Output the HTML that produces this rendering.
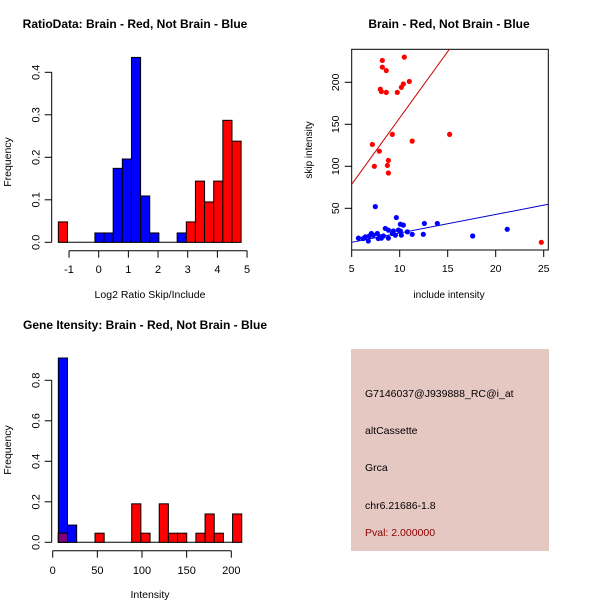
<!DOCTYPE html>
<html><head><meta charset="utf-8"><style>
body{margin:0;background:#fff}
svg{display:block;font-family:"Liberation Sans",sans-serif}
</style></head><body>
<svg id="s" width="600" height="600" viewBox="0 0 600 600"></svg>
<script>
// ---- Panel 1: Ratio histogram ----
const ratioBinStart = -1.36;
const ratioBinWidth = 0.308;
const ratioBlueIdx = [4,5,6,7,8,9,10,13];
const ratioBlueVals = [0.022,0.022,0.174,0.196,0.435,0.109,0.022,0.022];
const ratioRedIdx = [0,14,15,16,17,18,19];
const ratioRedVals = [0.048,0.048,0.144,0.095,0.144,0.287,0.238];
const ratioXTicks = [-1,0,1,2,3,4,5];
const ratioYTicks = [0,0.1,0.2,0.3,0.4];
// ---- Panel 2: scatter ----
const redX = [10.48,8.19,8.19,8.6,11.0,10.38,10.17,7.98,8.09,8.6,9.75,9.23,15.2,7.15,11.3,7.88,8.82,8.72,7.36,8.82,24.75];
const redY = [230,226,218,214,201,198,194,191.7,189,188,188,138,138,126,130,118,107,101,100,92,9.5];
const blueX = [7.46,9.65,10.07,10.38,12.57,13.92,8.5,21.2,8.82,9.34,9.86,10.07,10.8,7.05,7.67,11.3,12.46,9.55,10.17,17.6,8.3,6.42,6.84,5.7,6.2,6.73,7.77,8.09,8.82,7.98,7.25,9.23];
const blueY = [52,39,31,30,32,32,26,25,24,23,24,23,22,20,20,19,19,18,18,17,17,16,17,14.5,14,11,14,14.5,14.5,16,18,20];
const redFit = [-0.4,15.8];   // intercept, slope
const blueFit = [-1.55,2.21];
const scXTicks = [5,10,15,20,25];
const scYTicks = [50,100,150,200];
// ---- Panel 3: intensity histogram ----
const intBinStart = 6.3;
const intBinWidth = 10.27;
const intBlueIdx = [0,1];
const intBlueVals = [0.91,0.085];
const intRedIdx = [0,4,8,9,11,12,13,15,16,17,19];
const intRedVals = [0.045,0.045,0.19,0.045,0.19,0.045,0.045,0.045,0.14,0.045,0.14];
const intXTicks = [0,50,100,150,200];
const intYTicks = [0,0.2,0.4,0.6,0.8];

const S = document.getElementById('s');
const NS = 'http://www.w3.org/2000/svg';
function el(tag, attrs, parent){
  const e = document.createElementNS(NS, tag);
  for (const k in attrs) e.setAttribute(k, attrs[k]);
  (parent||S).appendChild(e);
  return e;
}
function txt(x,y,t,opts,parent){
  const e = el('text',{x:x,y:y,'font-size':opts.size||11,'text-anchor':opts.anchor||'middle',fill:opts.fill||'#000','font-weight':opts.bold?'bold':'normal'},parent);
  if(opts.rot) e.setAttribute('transform','rotate(-90 '+x+' '+y+')');
  e.textContent = t;
  return e;
}
function line(x1,y1,x2,y2,c,p){return el('line',{x1:x1,y1:y1,x2:x2,y2:y2,stroke:c||'#000','stroke-width':1},p);}

// Panel 1
(function(){
  const g = el('g',{});
  
  
  const xs = v => 98.7 + v*29.67;
  const ys = v => 242.3 - v*425;
  function bars(idx, vals, col, name){
    idx.forEach((k,i)=>{
      const x0 = xs(ratioBinStart + k*ratioBinWidth), x1 = xs(ratioBinStart+(k+1)*ratioBinWidth);
      const r = el('rect',{x:x0,y:ys(vals[i]),width:x1-x0,height:ys(0)-ys(vals[i]),fill:col,stroke:'#000','stroke-width':1},g);
      
      
    });
  }
  line(xs(ratioBinStart),ys(0),xs(ratioBinStart+20*ratioBinWidth),ys(0),'#000',g);
  bars(ratioBlueIdx,ratioBlueVals,'#0000ff','blue');
  bars(ratioRedIdx,ratioRedVals,'#ff0000','red');
  const ay = 250.7;
  line(xs(ratioXTicks[0]),ay,xs(ratioXTicks[ratioXTicks.length-1]),ay,'#000',g);
  ratioXTicks.forEach(t=>{line(xs(t),ay,xs(t),ay+7,'#000',g);txt(xs(t),273,String(t),{},g);});
  const ax = 51.7;
  line(ax,ys(0),ax,ys(0.4),'#000',g);
  ratioYTicks.forEach(t=>{line(ax-7,ys(t),ax,ys(t),'#000',g);txt(ax-12,ys(t),t.toFixed(1),{rot:true},g);});
  const t1=txt(135,28,'RatioData: Brain - Red, Not Brain - Blue',{bold:true,size:12},g);
  
  
  txt(150,298,'Log2 Ratio Skip/Include',{size:10.5},g);
  txt(11,162,'Frequency',{rot:true,size:10.5},g);
})();

// Panel 2
(function(){
  const g = el('g',{});
  
  
  const xs = v => 351.7 + (v-5)*9.6;
  const ys = v => 250.3 - v*0.84;
  const clip = el('clipPath',{id:'cp'},g);
  el('rect',{x:351.7,y:49.3,width:196.6,height:200.7},clip);
  const bx = el('rect',{x:351.7,y:49.3,width:196.6,height:200.7,fill:'none',stroke:'#000'},g);
  
  
  const rl = el('line',{x1:xs(5),y1:ys(redFit[0]+redFit[1]*5),x2:xs(25.5),y2:ys(redFit[0]+redFit[1]*25.5),stroke:'#cc0000','clip-path':'url(#cp)'},g);
  
  
  const bl = el('line',{x1:xs(5),y1:ys(blueFit[0]+blueFit[1]*5),x2:xs(25.48),y2:ys(blueFit[0]+blueFit[1]*25.48),stroke:'#0000cc','clip-path':'url(#cp)'},g);
  
  
  blueX.forEach((x,i)=>{const c=el('circle',{cx:xs(x),cy:ys(blueY[i]),r:2.6,fill:'#0000ff'},g);
    
    });
  redX.forEach((x,i)=>{const c=el('circle',{cx:xs(x),cy:ys(redY[i]),r:2.6,fill:'#ff0000'},g);
    
    });
  scXTicks.forEach(t=>{line(xs(t),250,xs(t),257,'#000',g);txt(xs(t),272,String(t),{size:10.5},g);});
  scYTicks.forEach(t=>{line(344.7,ys(t),351.7,ys(t),'#000',g);txt(339,ys(t),String(t),{rot:true,size:10.5},g);});
  const t2=txt(449,28,'Brain - Red, Not Brain - Blue',{bold:true,size:12},g);
  
  
  txt(449,298,'include intensity',{size:10},g);
  txt(312,150,'skip intensity',{rot:true,size:10},g);
})();

// Panel 3
(function(){
  const g = el('g',{});
  
  
  const xs = v => 52.7 + v*0.893;
  const ys = v => 542.3 - v*202.5;
  function bars(idx, vals, col, name){
    idx.forEach((k,i)=>{
      const x0 = xs(intBinStart + k*intBinWidth), x1 = xs(intBinStart+(k+1)*intBinWidth);
      const r = el('rect',{x:x0,y:ys(vals[i]),width:x1-x0,height:ys(0)-ys(vals[i]),fill:col,stroke:'#000','stroke-width':1},g);
      
      
    });
  }
  line(xs(intBinStart),ys(0),xs(intBinStart+20*intBinWidth),ys(0),'#000',g);
  bars(intBlueIdx,intBlueVals,'#0000ff','blue');
  bars(intRedIdx,intRedVals,'#ff0000','red');
  const x0=xs(intBinStart), x1=xs(intBinStart+intBinWidth);
  const ov=el('rect',{x:x0,y:ys(intRedVals[0]),width:x1-x0,height:ys(0)-ys(intRedVals[0]),fill:'#800080',stroke:'#000'},g);
  
  
  const ay=550.7;
  line(xs(0),ay,xs(200),ay,'#000',g);
  intXTicks.forEach(t=>{line(xs(t),ay,xs(t),ay+7,'#000',g);txt(xs(t),574,String(t),{},g);});
  const ax=51.7;
  line(ax,ys(0),ax,ys(0.8),'#000',g);
  intYTicks.forEach(t=>{line(ax-7,ys(t),ax,ys(t),'#000',g);txt(ax-12,ys(t),t.toFixed(1),{rot:true},g);});
  const t3=txt(145,329,'Gene Itensity: Brain - Red, Not Brain - Blue',{bold:true,size:12},g);
  
  
  txt(150,598,'Intensity',{size:10.5},g);
  txt(11,450,'Frequency',{rot:true,size:10.5},g);
})();

// Panel 4: info box
(function(){
  const g = el('g',{});
  
  
  el('rect',{x:351,y:349,width:198,height:202,fill:'#e6c8c2'},g);
  const lines=[['G7146037@J939888_RC@i_at',397,'#000'],['altCassette',434,'#000'],['Grca',471,'#000'],['chr6.21686-1.8',509,'#000'],['Pval: 2.000000',536,'#8b0000']];
  lines.forEach(l=>{const t=txt(365,l[1],l[0],{anchor:'start',fill:l[2],size:10.5},g);
    
    });
})();
</script>
</body></html>
